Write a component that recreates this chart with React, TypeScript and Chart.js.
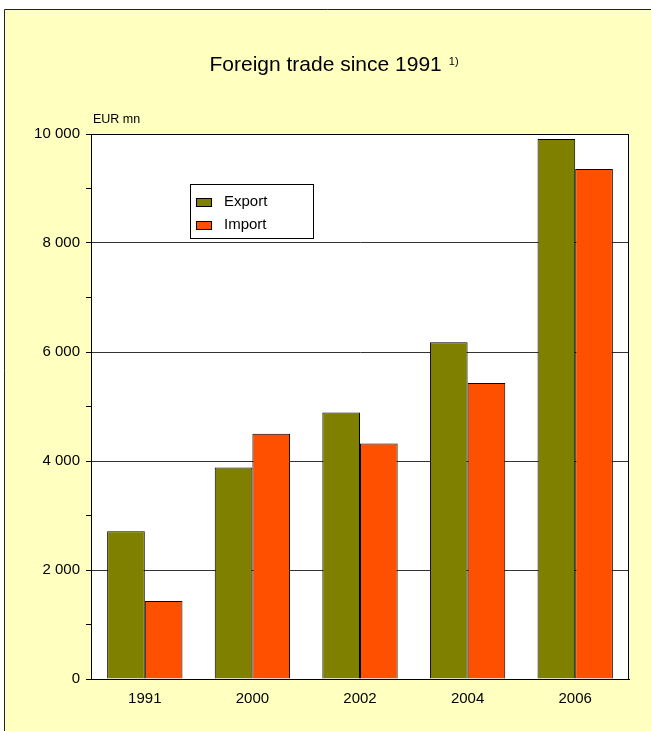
import React, { useEffect, useRef } from "react";
import { Chart, registerables } from "chart.js";

Chart.register(...registerables);

const categories = ["1991", "2000", "2002", "2004", "2006"];
const exportValues = [2710, 3880, 4890, 6180, 9910];
const importValues = [1430, 4500, 4320, 5430, 9360];
const seriesLabels = ["Export", "Import"];
const seriesColors = ["#808000", "#FF5000"];
const titleText = "Foreign trade since 1991";
const titleNote = "1)";
const unitLabel = "EUR mn";

const FONT = "'Liberation Sans', Arial, sans-serif";

const decorPlugin = {
  id: "decor",
  beforeDraw(chart: any) {
    const { ctx, chartArea, width, height } = chart;
    ctx.save();
    ctx.fillStyle = "#ffffff";
    ctx.fillRect(0, 0, width, height);
    ctx.fillStyle = "#FFFFC0";
    ctx.fillRect(4, 9, width, height);
    ctx.strokeStyle = "#222";
    ctx.lineWidth = 1;
    ctx.beginPath();
    ctx.moveTo(4.5, height);
    ctx.lineTo(4.5, 9.5);
    ctx.lineTo(width, 9.5);
    ctx.stroke();
    ctx.fillStyle = "#ffffff";
    ctx.fillRect(chartArea.left, chartArea.top, chartArea.right - chartArea.left, chartArea.bottom - chartArea.top);
    ctx.restore();
  },
  afterDatasetsDraw(chart: any) {
    const { ctx, chartArea } = chart;
    ctx.save();
    // plot border
    ctx.strokeStyle = "#000";
    ctx.lineWidth = 1;
    ctx.strokeRect(chartArea.left + 0.5, chartArea.top + 0.5, chartArea.right - chartArea.left - 1, chartArea.bottom - chartArea.top);
    // title
    ctx.fillStyle = "#000";
    ctx.textBaseline = "alphabetic";
    ctx.textAlign = "left";
    ctx.font = `21px ${FONT}`;
    const tw = ctx.measureText(titleText).width;
    ctx.font = `11px ${FONT}`;
    const nw = ctx.measureText(titleNote).width;
    const gap = 7;
    const total = tw + gap + nw;
    const cx = 334;
    const tx = cx - total / 2;
    ctx.font = `21px ${FONT}`;
    ctx.fillText(titleText, tx, 71);
    ctx.font = `11px ${FONT}`;
    ctx.fillText(titleNote, tx + tw + gap, 65);
    // unit label
    ctx.textBaseline = "middle";
    ctx.font = `12.5px ${FONT}`;
    ctx.fillText(unitLabel, chartArea.left + 2, chartArea.top - 14);
    // legend
    const bx = 190.5, by = 184.5, bw = 123, bh = 54;
    ctx.fillStyle = "#ffffff";
    ctx.fillRect(bx, by, bw, bh);
    ctx.strokeStyle = "#000";
    ctx.strokeRect(bx, by, bw, bh);
    chart.data.datasets.forEach((ds: any, i: number) => {
      const y = 198 + i * 23;
      ctx.fillStyle = ds.backgroundColor;
      ctx.fillRect(196.5, y + 0.5, 15, 8);
      ctx.strokeStyle = "#000";
      ctx.strokeRect(196.5, y + 0.5, 15, 8);
      ctx.fillStyle = "#000";
      ctx.font = `15px ${FONT}`;
      ctx.textBaseline = "middle";
      ctx.fillText(ds.label, 224, y + 4);
    });
    ctx.restore();
  },
};

export default function App() {
  const ref = useRef<HTMLCanvasElement | null>(null);
  useEffect(() => {
    document.body.style.margin = "0";
    const chart = new Chart(ref.current as HTMLCanvasElement, {
      type: "bar",
      data: {
        labels: categories,
        datasets: [
          {
            label: seriesLabels[0],
            data: exportValues,
            backgroundColor: seriesColors[0],
            borderColor: "#000",
            borderWidth: 1,
          },
          {
            label: seriesLabels[1],
            data: importValues,
            backgroundColor: seriesColors[1],
            borderColor: "#000",
            borderWidth: 1,
          },
        ],
      },
      options: {
        animation: false,
        responsive: false,
        layout: { padding: { top: 134, right: 22, left: 0, bottom: 0 } },
        datasets: { bar: { categoryPercentage: 0.7, barPercentage: 1 } },
        plugins: {
          legend: { display: false },
          title: { display: false },
          tooltip: { enabled: false },
        },
        scales: {
          x: {
            grid: { display: false, drawTicks: false },
            border: { color: "#000" },
            ticks: { color: "#000", font: { family: FONT, size: 15 }, padding: 11 },
            afterFit: (s: any) => { s.height = 52; },
          },
          y: {
            min: 0,
            max: 10000,
            border: { color: "#000" },
            grid: {
              color: (c: any) => (c.tick && c.tick.value % 2000 === 0 ? "#333" : "rgba(0,0,0,0)"),
              tickColor: "#000",
              tickLength: 5,
            },
            ticks: {
              stepSize: 1000,
              autoSkip: false,
              color: "#000",
              padding: 6,
              font: { family: FONT, size: 15 },
              callback: (v: any) => {
                const n = Number(v);
                if (n % 2000 !== 0) return "";
                return n >= 1000 ? `${Math.floor(n / 1000)} ${String(n % 1000).padStart(3, "0")}` : String(n);
              },
            },
            afterFit: (s: any) => { s.width = 91; },
          },
        },
      },
      plugins: [decorPlugin],
    });
    return () => chart.destroy();
  }, []);
  return (
    <div style={{ width: 651, height: 731 }}>
      <canvas ref={ref} width={651} height={731} style={{ display: "block" }} />
    </div>
  );
}
